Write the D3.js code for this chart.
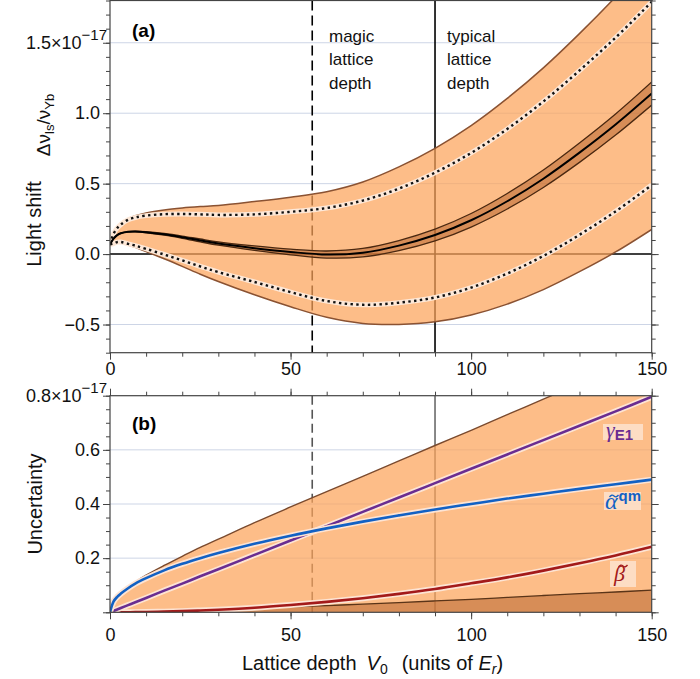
<!DOCTYPE html>
<html>
<head>
<meta charset="utf-8">
<script src="https://cdn.jsdelivr.net/npm/d3@7"></script>
<style>
  body { margin: 0; background: #fff; }
  svg { display: block; font-family: "Liberation Sans", Arial, sans-serif; }
</style>
</head>
<body>
<svg id="chart" width="700" height="679"></svg>
<script>
// lattice depth V0 (units of E_r)
const depth       = [0, 1, 2, 3, 5, 7, 10, 15, 20, 25, 30, 40, 50, 60, 70, 80, 90, 100, 110, 120, 130, 140, 150];
// panel (a): light shift (x1e-17)
const shiftCentre = [0.07, 0.11, 0.135, 0.148, 0.158, 0.16, 0.155, 0.14, 0.12, 0.097, 0.075, 0.042, 0.015, -0.003, 0.01, 0.06, 0.135, 0.24, 0.375, 0.535, 0.72, 0.92, 1.14];
const dottedUnc   = [0, 0.035, 0.05, 0.062, 0.085, 0.1, 0.118, 0.143, 0.165, 0.185, 0.203, 0.24, 0.285, 0.33, 0.37, 0.405, 0.443, 0.478, 0.513, 0.548, 0.583, 0.617, 0.65];
// panel (b): uncertainty (x1e-17)
const totalUnc    = [0, 0.04, 0.058, 0.07, 0.093, 0.112, 0.137, 0.173, 0.207, 0.24, 0.27, 0.331, 0.389, 0.446, 0.502, 0.559, 0.616, 0.672, 0.73, 0.787, 0.845, 0.905, 0.965];
const tensorUnc   = [0, 0.0004, 0.0008, 0.0012, 0.002, 0.0028, 0.004, 0.006, 0.008, 0.01, 0.012, 0.016, 0.02, 0.025, 0.03, 0.036, 0.042, 0.048, 0.055, 0.062, 0.069, 0.075, 0.082];
const alphaQM     = [0, 0.04, 0.057, 0.069, 0.089, 0.106, 0.126, 0.155, 0.179, 0.2, 0.219, 0.253, 0.283, 0.31, 0.335, 0.358, 0.38, 0.4, 0.42, 0.438, 0.456, 0.473, 0.49];
const gammaE1     = [0, 0.0053, 0.0106, 0.016, 0.0265, 0.037, 0.053, 0.08, 0.106, 0.133, 0.159, 0.212, 0.265, 0.318, 0.371, 0.424, 0.477, 0.53, 0.583, 0.636, 0.689, 0.742, 0.796];
const betaTilde   = [0, 0, 0, 0.0001, 0.0003, 0.0005, 0.0011, 0.0024, 0.0043, 0.0067, 0.0096, 0.017, 0.027, 0.0385, 0.052, 0.068, 0.086, 0.107, 0.129, 0.154, 0.181, 0.21, 0.242];

const magicDepth = 56;
const typicalDepth = 90;

const xTicks = [0, 50, 100, 150];
const yTicksA = [-0.5, 0, 0.5, 1.0, 1.5];
const yTicksB = [0, 0.2, 0.4, 0.6, 0.8];

const svg = d3.select('#chart');
const idx = d3.range(depth.length);

const x = d3.scaleLinear().domain([0, 150]).range([110, 651.7]);
const yA = d3.scaleLinear().domain([-0.7, 1.8]).range([352.7, 0.5]);
const yB = d3.scaleLinear().domain([0, 0.8]).range([612.3, 395.7]);

const bandFill = '#fca45a', edgeCol = '#8a5232', axisCol = '#444', gridCol = '#cdd5e6';
const curve = d3.curveCatmullRom.alpha(0.5);

// clip paths
const defs = svg.append('defs');
defs.append('clipPath').attr('id', 'clipA').append('rect')
  .attr('x', x(0)).attr('y', yA(1.8)).attr('width', x(150) - x(0)).attr('height', yA(-0.7) - yA(1.8));
defs.append('clipPath').attr('id', 'clipB').append('rect')
  .attr('x', x(0)).attr('y', yB(0.8)).attr('width', x(150) - x(0)).attr('height', yB(0) - yB(0.8));

function line(y, f) {
  return d3.line().x(i => x(depth[i])).y(i => y(f(i))).curve(curve)(idx);
}
function area(y, f0, f1) {
  return d3.area().x(i => x(depth[i])).y0(i => y(f0(i))).y1(i => y(f1(i))).curve(curve)(idx);
}

//------------- Panel (a) -------------
const gA = svg.append('g');
gA.selectAll('.grid').data(yTicksA.filter(d => d !== 0)).enter().append('line')
  .attr('x1', x(0)).attr('x2', x(150)).attr('y1', d => yA(d)).attr('y2', d => yA(d))
  .attr('stroke', gridCol).attr('stroke-width', 1);
gA.append('line').attr('x1', x(0)).attr('x2', x(150)).attr('y1', yA(0)).attr('y2', yA(0))
  .attr('stroke', '#000').attr('stroke-width', 1.5);
gA.append('line').attr('x1', x(magicDepth)).attr('x2', x(magicDepth)).attr('y1', yA(1.8)).attr('y2', yA(-0.7))
  .attr('stroke', '#000').attr('stroke-width', 1.6).attr('stroke-dasharray', '10,5');
gA.append('line').attr('x1', x(typicalDepth)).attr('x2', x(typicalDepth)).attr('y1', yA(1.8)).attr('y2', yA(-0.7))
  .attr('stroke', '#000').attr('stroke-width', 1.6);

const cA = gA.append('g').attr('clip-path', 'url(#clipA)');
cA.append('path').attr('d', area(yA, i => shiftCentre[i] - totalUnc[i], i => shiftCentre[i] + totalUnc[i]))
  .attr('fill', bandFill).attr('fill-opacity', 0.72);
[1, -1].forEach(s => {
  cA.append('path').attr('d', line(yA, i => shiftCentre[i] + s * totalUnc[i]))
    .attr('fill', 'none').attr('stroke', edgeCol).attr('stroke-width', 1.5);
});
[1, -1].forEach(s => {
  const d = line(yA, i => shiftCentre[i] + s * dottedUnc[i]);
  cA.append('path').attr('d', d).attr('fill', 'none').attr('stroke', '#fde8d8').attr('stroke-width', 5);
  cA.append('path').attr('d', d).attr('fill', 'none').attr('stroke', '#111').attr('stroke-width', 2.4)
    .attr('stroke-dasharray', '2.4,3.4');
});
cA.append('path').attr('d', area(yA, i => shiftCentre[i] - tensorUnc[i], i => shiftCentre[i] + tensorUnc[i]))
  .attr('fill', '#a9511c').attr('fill-opacity', 0.45);
[1, -1].forEach(s => {
  cA.append('path').attr('d', line(yA, i => shiftCentre[i] + s * tensorUnc[i]))
    .attr('fill', 'none').attr('stroke', '#4a2810').attr('stroke-width', 1.3);
});
cA.append('path').attr('d', line(yA, i => shiftCentre[i]))
  .attr('fill', 'none').attr('stroke', '#000').attr('stroke-width', 2);

//------------- Panel (b) -------------
const gB = svg.append('g');
gB.selectAll('.grid').data([0.2, 0.4, 0.6]).enter().append('line')
  .attr('x1', x(0)).attr('x2', x(150)).attr('y1', d => yB(d)).attr('y2', d => yB(d))
  .attr('stroke', gridCol).attr('stroke-width', 1);
gB.append('line').attr('x1', x(magicDepth)).attr('x2', x(magicDepth)).attr('y1', yB(0.8)).attr('y2', yB(0))
  .attr('stroke', '#555').attr('stroke-width', 1.6).attr('stroke-dasharray', '9,5');
gB.append('line').attr('x1', x(typicalDepth)).attr('x2', x(typicalDepth)).attr('y1', yB(0.8)).attr('y2', yB(0))
  .attr('stroke', '#555').attr('stroke-width', 1.4);

const cB = gB.append('g').attr('clip-path', 'url(#clipB)');
cB.append('path').attr('d', area(yB, i => 0, i => totalUnc[i]))
  .attr('fill', bandFill).attr('fill-opacity', 0.72);
cB.append('path').attr('d', line(yB, i => totalUnc[i]))
  .attr('fill', 'none').attr('stroke', '#7a4a2e').attr('stroke-width', 1.4);
cB.append('path').attr('d', area(yB, i => 0, i => tensorUnc[i]))
  .attr('fill', '#a9511c').attr('fill-opacity', 0.45);
cB.append('path').attr('d', line(yB, i => tensorUnc[i]))
  .attr('fill', 'none').attr('stroke', '#5a3418').attr('stroke-width', 1.3);

const curves = [
  { vals: betaTilde, col: '#a31a1a' },
  { vals: gammaE1, col: '#6a2d91' },
  { vals: alphaQM, col: '#1261c4' }
];
curves.forEach(c => {
  const d = line(yB, i => c.vals[i]);
  cB.append('path').attr('d', d).attr('fill', 'none').attr('stroke', '#fde4d4').attr('stroke-width', 6);
  cB.append('path').attr('d', d).attr('fill', 'none').attr('stroke', c.col).attr('stroke-width', 2.6);
});

// curve labels
const serif = 'Liberation Serif, serif';
function labelBox(x0, y0, w, h) {
  gB.append('rect').attr('x', x0).attr('y', y0).attr('width', w).attr('height', h)
    .attr('fill', '#fde3cf').attr('fill-opacity', 0.85);
}
// small tilde accent drawn as a path
function tilde(cx, cy, col) {
  gB.append('path')
    .attr('d', `M${cx - 4.5},${cy + 1} q2.2,-3 4.5,-1 t4.5,-1`)
    .attr('fill', 'none').attr('stroke', col).attr('stroke-width', 1.3);
}
labelBox(603, 424, 40, 16);
const tg = gB.append('text').attr('x', 606).attr('y', 437).attr('fill', '#6a2d91');
tg.append('tspan').attr('font-family', serif).attr('font-style', 'italic').attr('font-size', 22).text('γ');
tg.append('tspan').attr('font-weight', 'bold').attr('font-size', 15).attr('dy', 3).text('E1');

labelBox(604, 492, 37, 18);
const ta = gB.append('text').attr('x', 605).attr('y', 509).attr('fill', '#1261c4');
ta.append('tspan').attr('font-family', serif).attr('font-style', 'italic').attr('font-size', 24).text('α');
ta.append('tspan').attr('font-weight', 'bold').attr('font-size', 15).attr('dy', -8).attr('dx', 1).text('qm');
tilde(614, 496, '#1261c4');

labelBox(610, 561, 26, 26);
gB.append('text').attr('x', 614).attr('y', 581).attr('fill', '#a31a1a')
  .attr('font-family', serif).attr('font-style', 'italic').attr('font-size', 22).text('β');
tilde(623, 566, '#a31a1a');

//------------- axes and frames -------------
function styleAxis(g) {
  g.select('.domain').remove();
  g.selectAll('line').attr('stroke', axisCol).attr('stroke-width', 1);
  g.selectAll('text').attr('fill', '#111').attr('font-size', 18)
    .attr('font-family', 'Liberation Sans, Arial, sans-serif');
}
function sciLabel(g, value, main) {
  g.selectAll('text').filter(d => d === value).each(function () {
    const t = d3.select(this).text(null).attr('x', -3);
    t.append('tspan').text(main);
    t.append('tspan').attr('font-size', 15).attr('dy', '-0.6em').text('\u221217');
  });
}

function frame(y, yLo, yHi, majors, minorStep, fmt, labelPad) {
  const top = y(yHi), bot = y(yLo), left = x(0), right = x(150);
  const minors = d3.range(yLo, yHi + 1e-9, minorStep).map(v => +v.toFixed(3));
  const xMinor = d3.range(0, 151, 10);
  svg.append('g').attr('transform', `translate(${left},0)`)
    .call(d3.axisLeft(y).tickValues(minors).tickSize(4).tickFormat('')).call(styleAxis);
  svg.append('g').attr('transform', `translate(${right},0)`)
    .call(d3.axisRight(y).tickValues(minors).tickSize(4).tickFormat('')).call(styleAxis);
  svg.append('g').attr('transform', `translate(${right},0)`)
    .call(d3.axisRight(y).tickValues(majors).tickSize(7).tickFormat('')).call(styleAxis);
  const la = svg.append('g').attr('transform', `translate(${left},0)`)
    .call(d3.axisLeft(y).tickValues(majors).tickSize(7).tickPadding(3).tickFormat(fmt)).call(styleAxis);
  svg.append('g').attr('transform', `translate(0,${bot})`)
    .call(d3.axisBottom(x).tickValues(xMinor).tickSize(4).tickFormat('')).call(styleAxis);
  svg.append('g').attr('transform', `translate(0,${bot})`)
    .call(d3.axisBottom(x).tickValues(xTicks).tickSize(7).tickPadding(labelPad).tickFormat(d3.format('d'))).call(styleAxis);
  svg.append('g').attr('transform', `translate(0,${top})`)
    .call(d3.axisTop(x).tickValues(xMinor).tickSize(4).tickFormat('')).call(styleAxis);
  svg.append('g').attr('transform', `translate(0,${top})`)
    .call(d3.axisTop(x).tickValues(xTicks).tickSize(7).tickFormat('')).call(styleAxis);
  svg.append('rect').attr('x', left).attr('y', top).attr('width', right - left).attr('height', bot - top)
    .attr('fill', 'none').attr('stroke', axisCol).attr('stroke-width', 1.2);
  return la;
}

const axA = frame(yA, -0.7, 1.8, yTicksA, 0.1, d3.format('.1f'), 3);
sciLabel(axA, 1.5, '1.5\u00d710');
const axB = frame(yB, 0, 0.8, yTicksB, 0.05, d => d === 0 ? '' : d3.format('.1f')(d), 9);
sciLabel(axB, 0.8, '0.8\u00d710');

//------------- texts -------------
svg.append('text').attr('x', 132).attr('y', 37).attr('font-size', 19).attr('font-weight', 'bold').text('(a)');
svg.append('text').attr('x', 132).attr('y', 430).attr('font-size', 19).attr('font-weight', 'bold').text('(b)');

function stackText(x0, lines) {
  const t = svg.append('text').attr('font-size', 17).attr('fill', '#111');
  lines.forEach((s, i) => t.append('tspan').attr('x', x0).attr('y', 42 + i * 23.3).text(s));
}
stackText(329, ['magic', 'lattice', 'depth']);
stackText(447, ['typical', 'lattice', 'depth']);

svg.append('text').attr('transform', 'translate(41,224) rotate(-90)').attr('text-anchor', 'middle')
  .attr('font-size', 20).attr('fill', '#111').text('Light shift');
const dl = svg.append('text').attr('transform', 'translate(50,125) rotate(-90)').attr('text-anchor', 'middle')
  .attr('font-size', 19).attr('fill', '#111');
dl.append('tspan').text('\u0394\u03bd');
dl.append('tspan').attr('font-size', 13).attr('dy', 4).text('ls');
dl.append('tspan').attr('dy', -4).text('/\u03bd');
dl.append('tspan').attr('font-size', 13).attr('dy', 4).text('Yb');

svg.append('text').attr('transform', 'translate(42,504) rotate(-90)').attr('text-anchor', 'middle')
  .attr('font-size', 20).attr('fill', '#111').text('Uncertainty');

const xl = svg.append('text').attr('x', 242).attr('y', 670).attr('font-size', 20).attr('fill', '#111');
xl.append('tspan').text('Lattice depth');
xl.append('tspan').attr('dx', 10).attr('font-style', 'italic').text('V');
xl.append('tspan').attr('font-size', 14).attr('dy', 4).text('0');
xl.append('tspan').attr('dx', 14).attr('dy', -4).text('(units of ');
xl.append('tspan').attr('font-style', 'italic').text('E');
xl.append('tspan').attr('font-style', 'italic').attr('font-size', 14).attr('dy', 4).text('r');
xl.append('tspan').attr('dy', -4).text(')');
</script>
</body>
</html>
